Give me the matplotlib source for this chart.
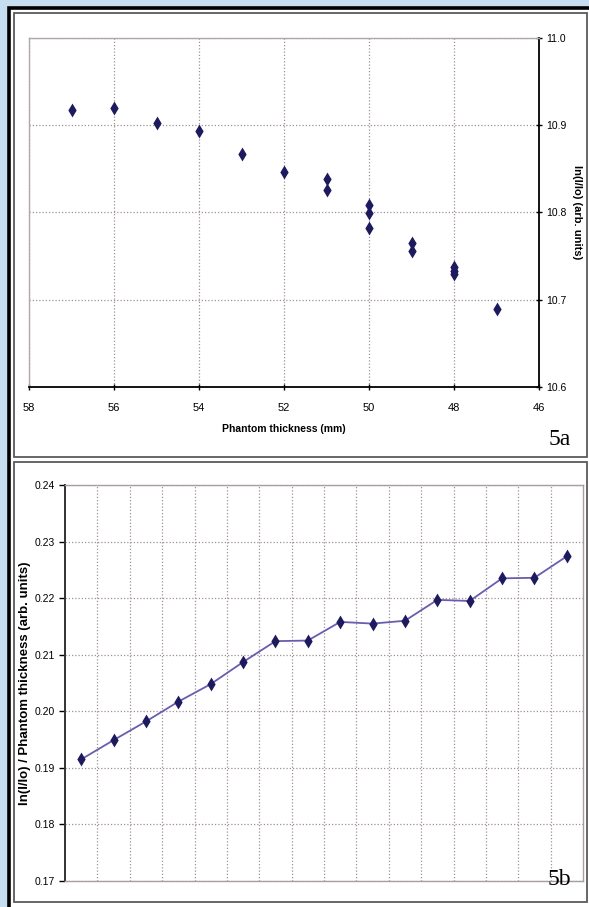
import matplotlib
matplotlib.use('Agg')
from matplotlib import pyplot as plt
from matplotlib.patches import Rectangle
import numpy as np

# panel 5a: phantom thickness vs ln(I/Io)
thick_a = [57, 56, 55, 54, 53, 52, 51, 51, 50, 50, 50, 49, 49, 48, 48, 48, 47]
lnI_a = [10.918, 10.920, 10.903, 10.893, 10.867, 10.846, 10.838, 10.826,
         10.809, 10.799, 10.782, 10.765, 10.756, 10.737, 10.733, 10.729, 10.689]
xticks_a = [58, 56, 54, 52, 50, 48, 46]
yticks_a = [10.6, 10.7, 10.8, 10.9, 11.0]

# panel 5b: ln(I/Io) / phantom thickness, 16 categories
ratio_b = [0.1915, 0.1949, 0.1982, 0.2017, 0.2048, 0.2087, 0.2124, 0.2125,
           0.2158, 0.2155, 0.2160, 0.2197, 0.2195, 0.2235, 0.2236, 0.2274]
yticks_b = [0.17, 0.18, 0.19, 0.20, 0.21, 0.22, 0.23, 0.24]

W, H = 589, 907
NARROW = ['Liberation Sans Narrow', 'Liberation Sans', 'DejaVu Sans']
SANS = ['Liberation Sans', 'DejaVu Sans']
SERIF = ['Liberation Serif', 'DejaVu Serif']
navy = '#1d1a5e'
gridc = '#a09090'
dots = (0, (1, 1.6))


def px_rect(x0, y0, x1, y1, **kw):
    # rectangle in pixel coords (origin top-left)
    return Rectangle((x0 / W, 1 - y1 / H), (x1 - x0) / W, (y1 - y0) / H,
                     transform=fig.transFigure, **kw)


def ax_pos(x0, y0, x1, y1):
    return [x0 / W, 1 - y1 / H, (x1 - x0) / W, (y1 - y0) / H]


fig = plt.figure(figsize=(W / 100, H / 100), dpi=100)
fig.patch.set_facecolor('#c7ddf0')

# frames, kept behind the axes
fig.add_artist(px_rect(9, 8, 595, 915, facecolor='white', edgecolor='black',
                       lw=2.6, zorder=-10))
fig.add_artist(px_rect(14, 13, 587, 457, facecolor='none', edgecolor='#5a5a5a',
                       lw=1.3, zorder=-9))
fig.add_artist(px_rect(14, 462, 587, 902, facecolor='none', edgecolor='#5a5a5a',
                       lw=1.3, zorder=-9))

# ---- 5a ----
ax1 = fig.add_axes(ax_pos(29, 38, 539, 387))
ax1.scatter(thick_a, lnI_a, marker='d', s=50, color=navy, zorder=3, linewidths=0)
ax1.set_xlim(58, 46)
ax1.set_ylim(10.6, 11.0)
ax1.set_xticks(xticks_a)
ax1.set_yticks(yticks_a)
ax1.set_xticklabels([str(t) for t in xticks_a], family=NARROW, fontsize=8)
ax1.set_yticklabels(['%.1f' % t for t in yticks_a], family=NARROW, fontsize=7.5)
ax1.yaxis.tick_right()
ax1.yaxis.set_label_position('right')
ax1.tick_params(direction='inout', length=5, width=1, pad=3)
ax1.tick_params(axis='x', pad=9)
ax1.grid(True, linestyle=dots, color=gridc, lw=0.9)
for s in ['top', 'left']:
    ax1.spines[s].set_color('#b0a8a8')
    ax1.spines[s].set_linewidth(1)
for s in ['bottom', 'right']:
    ax1.spines[s].set_color('black')
    ax1.spines[s].set_linewidth(1.3)
ax1.set_xlabel('Phantom thickness (mm)', family=NARROW, fontsize=7.5,
               fontweight='bold', labelpad=8)
ax1.set_ylabel('ln(I/Io) (arb. units)', family=SANS, fontsize=8,
               fontweight='bold', rotation=270, va='center')
ax1.yaxis.set_label_coords(1.075, 0.5)
ax1.text(1.04, -0.15, '5a', transform=ax1.transAxes, family=SERIF,
         fontsize=17, ha='center', va='center')

# ---- 5b ----
ax2 = fig.add_axes(ax_pos(65, 485, 583, 881))
cats = np.arange(1, len(ratio_b) + 1)
ax2.plot(cats, ratio_b, color='#6a5cae', lw=1.3, zorder=2)
ax2.scatter(cats, ratio_b, marker='d', s=50, color=navy, zorder=3, linewidths=0)
ax2.set_xlim(0.5, len(ratio_b) + 0.5)
ax2.set_ylim(0.17, 0.24)
ax2.set_xticks(np.arange(1.5, len(ratio_b), 1))
ax2.set_xticklabels([])
ax2.tick_params(axis='x', length=0)
ax2.set_yticks(yticks_b)
ax2.set_yticklabels(['%.2f' % t for t in yticks_b], family=NARROW, fontsize=7.5)
ax2.tick_params(axis='y', direction='out', length=4, width=1, pad=3)
ax2.grid(True, linestyle=dots, color=gridc, lw=0.9)
for s in ['top', 'right', 'bottom']:
    ax2.spines[s].set_color('#a89e9e')
    ax2.spines[s].set_linewidth(1)
ax2.spines['left'].set_color('#333333')
ax2.spines['left'].set_linewidth(1.4)
ax2.set_ylabel('ln(I/Io) / Phantom thickness (arb. units)', family=SANS,
               fontsize=9.5, fontweight='bold', va='center')
ax2.yaxis.set_label_coords(-0.077, 0.5)
ax2.text(0.955, 0.005, '5b', transform=ax2.transAxes, family=SERIF,
         fontsize=17, ha='center', va='center')

fig.savefig('out.png', dpi=100, facecolor=fig.get_facecolor())
